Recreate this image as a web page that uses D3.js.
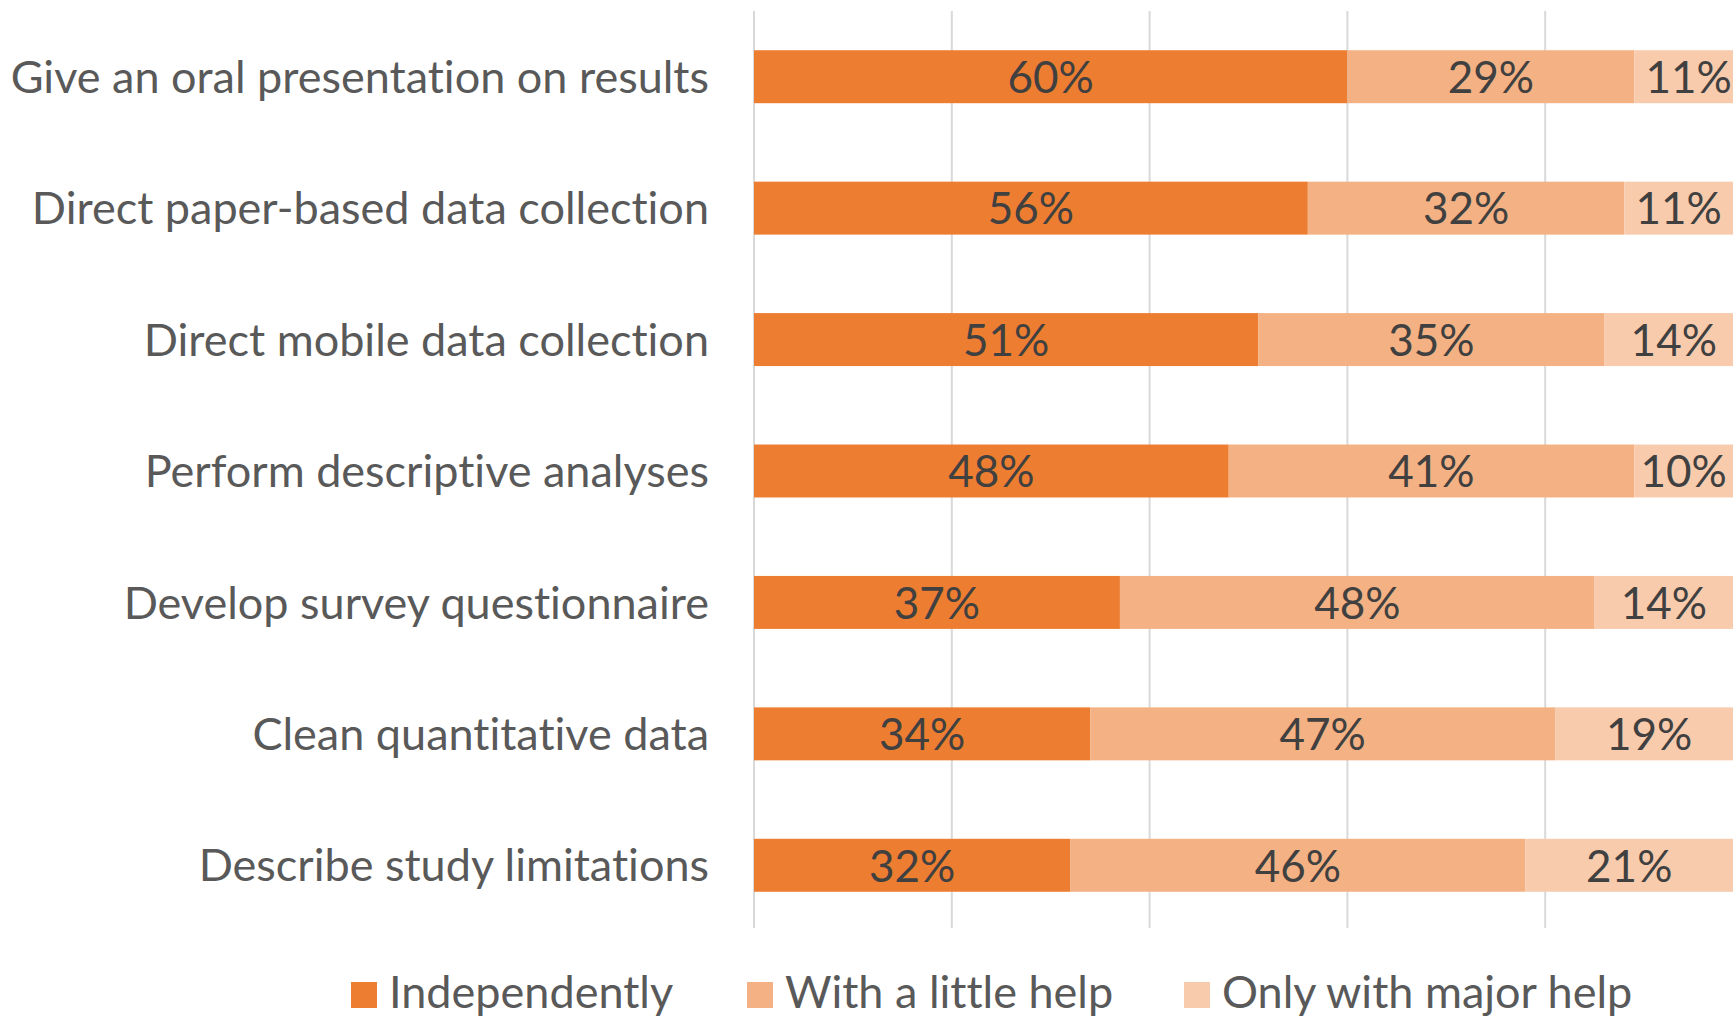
<!DOCTYPE html>
<html>
<head>
<meta charset="utf-8">
<script src="https://cdn.jsdelivr.net/npm/d3@7"></script>
<style>
  html, body { margin: 0; padding: 0; background: #fff; overflow: hidden; }
  svg { display: block; }
  text { font-variant-ligatures: none; font-feature-settings: "liga" 0, "clig" 0; }
</style>
</head>
<body>
<svg id="chart" width="1733" height="1017"></svg>
<script>
// Skills self-assessment: share of respondents per level of help needed
const categories = [
  "Give an oral presentation on results",
  "Direct paper-based data collection",
  "Direct mobile data collection",
  "Perform descriptive analyses",
  "Develop survey questionnaire",
  "Clean quantitative data",
  "Describe study limitations"
];
const seriesNames = ["Independently", "With a little help", "Only with major help"];
const independently = [60, 56, 51, 48, 37, 34, 32];
const littleHelp    = [29, 32, 35, 41, 48, 47, 46];
const majorHelp     = [11, 11, 14, 10, 14, 19, 21];
const xTicks = [0, 20, 40, 60, 80, 100];

const colors = ["#ED7D31", "#F4B183", "#F8CBAD"];
const fontFamily = "Lato, 'Open Sans', sans-serif";

const svg = d3.select("#chart");
const W = 1733, H = 1017;
const margin = { left: 754, right: -10, top: 11, bottom: 86 };

const rows = categories.map((c, i) => ({
  category: c,
  "Independently": independently[i],
  "With a little help": littleHelp[i],
  "Only with major help": majorHelp[i]
}));

const stacked = d3.stack().keys(seriesNames)(rows);

const x = d3.scaleLinear().domain([0, 100]).range([margin.left, W - margin.right]);
const y = d3.scaleBand().domain(categories)
  .range([margin.top, H - margin.bottom])
  .paddingInner(0.597).paddingOuter(0.2985);

// vertical gridlines
svg.append("g")
  .selectAll("line")
  .data(xTicks)
  .join("line")
  .attr("x1", d => x(d)).attr("x2", d => x(d))
  .attr("y1", margin.top).attr("y2", H - margin.bottom - 3)
  .attr("stroke", "#D9D9D9").attr("stroke-width", 2);

// stacked bar segments
const layers = svg.append("g")
  .selectAll("g")
  .data(stacked)
  .join("g")
  .attr("fill", (d, i) => colors[i]);

layers.selectAll("rect")
  .data(d => d)
  .join("rect")
  .attr("x", d => x(d[0]))
  .attr("width", d => x(d[1]) - x(d[0]))
  .attr("y", d => y(d.data.category))
  .attr("height", y.bandwidth());

// value labels centred in each segment
layers.selectAll("text")
  .data(d => d.map(s => ({ s, key: d.key })))
  .join("text")
  .attr("x", d => (x(d.s[0]) + x(d.s[1])) / 2)
  .attr("y", d => y(d.s.data.category) + y.bandwidth() / 2)
  .attr("dy", "0.37em")
  .attr("text-anchor", "middle")
  .attr("fill", "#404040")
  .attr("font-family", fontFamily)
  .attr("font-size", 44)
  .text(d => d.s.data[d.key] + "%");

// category axis labels
svg.append("g")
  .selectAll("text")
  .data(categories)
  .join("text")
  .attr("x", 709)
  .attr("y", d => y(d) + y.bandwidth() / 2)
  .attr("dy", "0.36em")
  .attr("text-anchor", "end")
  .attr("fill", "#595959")
  .attr("font-family", fontFamily)
  .attr("font-size", 45)
  .text(d => d);

// legend
const legendX = [351, 747, 1184];
const legend = svg.append("g")
  .selectAll("g")
  .data(seriesNames)
  .join("g")
  .attr("transform", (d, i) => `translate(${legendX[i]},982)`);
legend.append("rect")
  .attr("width", 26).attr("height", 26)
  .attr("fill", (d, i) => colors[i]);
legend.append("text")
  .attr("x", 38).attr("y", 10).attr("dy", "0.36em")
  .attr("fill", "#595959")
  .attr("font-family", fontFamily)
  .attr("font-size", 45)
  .text(d => d);
</script>
</body>
</html>
